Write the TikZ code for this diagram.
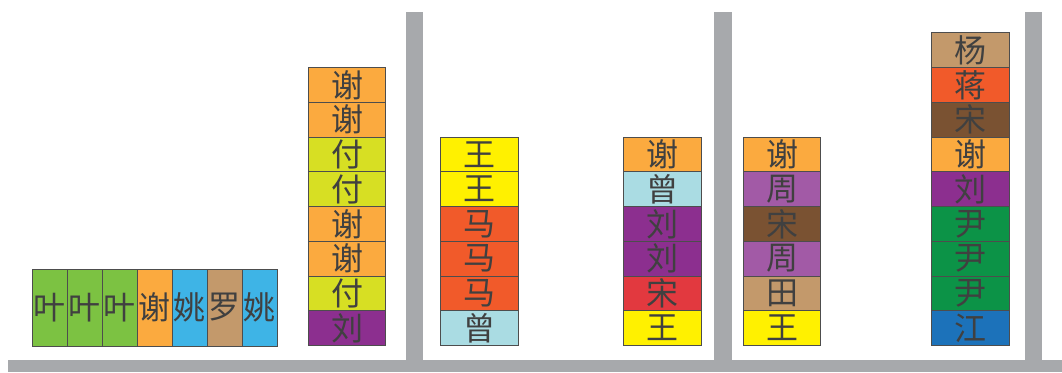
\documentclass[tikz,border=0pt]{standalone}
\usepackage{fontspec}
\newfontfamily\cjk{Noto Sans CJK SC}
\definecolor{cYe}{HTML}{7CC242}
\definecolor{cXie}{HTML}{FBAA3F}
\definecolor{cYao}{HTML}{3EB4E6}
\definecolor{cTan}{HTML}{C3996B}
\definecolor{cFu}{HTML}{D7DF23}
\definecolor{cLiu}{HTML}{8C2F8F}
\definecolor{cWang}{HTML}{FFF100}
\definecolor{cMa}{HTML}{F15A2A}
\definecolor{cZeng}{HTML}{AADCE3}
\definecolor{cSongR}{HTML}{E2393F}
\definecolor{cSongB}{HTML}{7A5232}
\definecolor{cZhou}{HTML}{A25AA6}
\definecolor{cYin}{HTML}{0C9347}
\definecolor{cJiangB}{HTML}{1C72BA}
\definecolor{cWall}{HTML}{A7A9AC}
\definecolor{cEdge}{HTML}{4D4D4D}
\begin{document}
\begin{tikzpicture}[x=1pt,y=-1pt,
  cellbox/.style={draw=cEdge, line width=0.8pt, inner sep=0pt, anchor=center,
    font=\cjk\fontsize{32}{32}\selectfont, text=black!75},
  vcell/.style={cellbox, minimum width=77.5pt, minimum height=34.75pt},
  hcell/.style={cellbox, minimum width=35pt, minimum height=77pt},
  wall/.style={fill=cWall, draw=none}]
\useasboundingbox (0,0) rectangle (1062,372);
% floor and walls
\fill[wall] (8,360) rectangle (1062,372);
\fill[wall] (406,12) rectangle (423,360);
\fill[wall] (714,12) rectangle (732,360);
\fill[wall] (1025,12) rectangle (1042,360);
% horizontal row
\foreach \t/\c [count=\i] in {叶/cYe,叶/cYe,叶/cYe,谢/cXie,姚/cYao,罗/cTan,姚/cYao}
  \node[hcell, fill=\c] (h\i) at ({32+35*\i-17.5},307.5) {\t};
% stack A (bottom to top)
\foreach \t/\c [count=\i] in {刘/cLiu,付/cFu,谢/cXie,谢/cXie,付/cFu,付/cFu,谢/cXie,谢/cXie}
  \node[vcell, fill=\c] (a\i) at (347,{345.5-34.75*\i+17.375}) {\t};
% stack B
\foreach \t/\c [count=\i] in {曾/cZeng,马/cMa,马/cMa,马/cMa,王/cWang,王/cWang}
  \node[vcell, fill=\c] (b\i) at (479.5,{345.5-34.75*\i+17.375}) {\t};
% stack C
\foreach \t/\c [count=\i] in {王/cWang,宋/cSongR,刘/cLiu,刘/cLiu,曾/cZeng,谢/cXie}
  \node[vcell, fill=\c] (c\i) at (662.5,{345.5-34.75*\i+17.375}) {\t};
% stack D
\foreach \t/\c [count=\i] in {王/cWang,田/cTan,周/cZhou,宋/cSongB,周/cZhou,谢/cXie}
  \node[vcell, fill=\c] (d\i) at (782,{345.5-34.75*\i+17.375}) {\t};
% stack E
\foreach \t/\c [count=\i] in {江/cJiangB,尹/cYin,尹/cYin,尹/cYin,刘/cLiu,谢/cXie,宋/cSongB,蒋/cMa,杨/cTan}
  \node[vcell, fill=\c] (e\i) at (970.5,{345.5-34.75*\i+17.375}) {\t};
\end{tikzpicture}
\end{document}
